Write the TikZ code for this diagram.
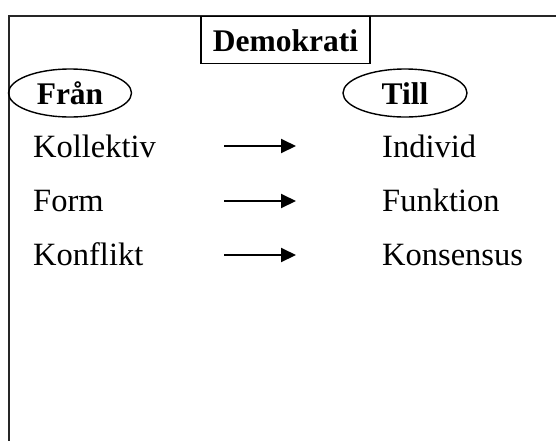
\documentclass[tikz,border=0pt]{standalone}
\usepackage{fontspec}
\setmainfont{Liberation Serif}
\usetikzlibrary{shapes.geometric,arrows.meta}
\begin{document}
\begin{tikzpicture}[x=1pt,y=-1pt,
  txt/.style={anchor=base west,inner sep=0pt,font=\fontsize{32.5}{38}\selectfont},
  hd/.style={font=\fontsize{31.5}{38}\selectfont\bfseries},
  oval/.style={ellipse,draw,line width=1.4pt,minimum height=48pt,inner sep=0pt,text height=22pt,text depth=0pt,hd},
  titlebox/.style={rectangle,draw,line width=1.5pt,minimum width=169pt,minimum height=47pt,inner sep=0pt,text height=23.5pt,text depth=0pt,hd},
  conn/.style={-{Triangle[length=15pt,width=14pt]},line width=2pt}]
\useasboundingbox (0,0) rectangle (556,440);
\clip (0,0) rectangle (556,440);
\draw[line width=2pt,black!85] (8.5,600) -- (8.5,16) -- (700,16);
\node[titlebox] (demo) at (285.5,40) {Demokrati};
\node[oval,minimum width=123pt] (fran) at (70,93) {Från};
\node[oval,minimum width=124pt] (till) at (405,93) {Till};
\node[txt] (l1) at (33,157) {Kollektiv};
\node[txt] (l2) at (33,211) {Form};
\node[txt] (l3) at (33,265) {Konflikt};
\node[txt] (r1) at (382,157) {Individ};
\node[txt] (r2) at (382,211) {Funktion};
\node[txt] (r3) at (382,265) {Konsensus};
\coordinate (a1s) at (224,146); \coordinate (a1e) at (296,146);
\coordinate (a2s) at (224,201); \coordinate (a2e) at (296,201);
\coordinate (a3s) at (224,255); \coordinate (a3e) at (296,255);
\draw[conn] (a1s) -- (a1e);
\draw[conn] (a2s) -- (a2e);
\draw[conn] (a3s) -- (a3e);
\end{tikzpicture}
\end{document}
